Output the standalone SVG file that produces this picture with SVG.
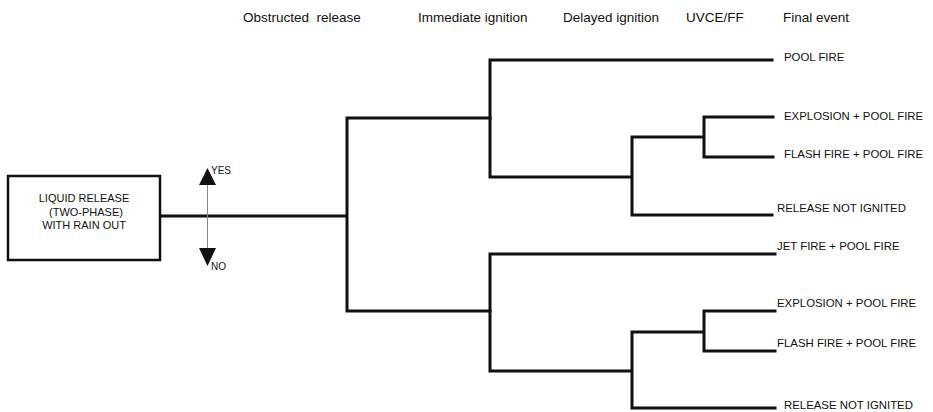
<svg xmlns="http://www.w3.org/2000/svg" width="933" height="412" viewBox="0 0 933 412">
<style>
text{font-family:"Liberation Sans",Arial,sans-serif;fill:#111}
.hdr{font-size:13.5px;white-space:pre}
.lbl{font-size:11.4px}
.box-t{font-size:11px}
.yn{font-size:10px}
.tree{fill:none;stroke:#111;stroke-width:3;stroke-linecap:square;stroke-linejoin:miter}
.box{fill:#fff;stroke:#111;stroke-width:2.5}
.arr{fill:#111}
</style>
<rect width="933" height="412" fill="#fff"/>
<g id="headers">
<text class="hdr" x="243" y="22" xml:space="preserve">Obstructed  release</text>
<text class="hdr" x="418" y="22">Immediate ignition</text>
<text class="hdr" x="563" y="22">Delayed ignition</text>
<text class="hdr" x="686" y="22">UVCE/FF</text>
<text class="hdr" x="783" y="22">Final event</text>
</g>
<g id="connectors">
<path class="tree" d="M160 216 H347 M347 118 V311 M347 118 H490 M347 311 H490"/>
<path class="tree" d="M490 60 V177 M490 60 H772 M490 177 H632 M632 137 V215 M632 137 H704 M632 215 H772 M704 117 V157 M704 117 H773 M704 157 H773"/>
<path class="tree" d="M490 254 V371 M490 254 H775 M490 371 H632 M632 332 V408 M632 332 H704 M632 408 H775 M704 311 V351 M704 311 H775 M704 351 H775"/>
</g>
<g id="yesno">
<line x1="207.5" y1="184" x2="207.5" y2="249" stroke="#888" stroke-width="1"/>
<path class="arr" d="M199 185 L207.5 168 L216 185 Z"/>
<path class="arr" d="M199 248 L207.5 266 L216 248 Z"/>
<text class="yn" x="211" y="174">YES</text>
<text class="yn" x="211" y="270">NO</text>
</g>
<g id="start">
<rect class="box" x="8" y="176" width="152" height="84"/>
<text class="box-t" x="84" y="202" text-anchor="middle">LIQUID RELEASE</text>
<text class="box-t" x="86" y="216" text-anchor="middle">(TWO-PHASE)</text>
<text class="box-t" x="84" y="229" text-anchor="middle">WITH RAIN OUT</text>
</g>
<g id="leaf1"><text class="lbl" x="784" y="61">POOL FIRE</text></g>
<g id="leaf2"><text class="lbl" x="784" y="120">EXPLOSION + POOL FIRE</text></g>
<g id="leaf3"><text class="lbl" x="784" y="158">FLASH FIRE + POOL FIRE</text></g>
<g id="leaf4"><text class="lbl" x="777" y="212">RELEASE NOT IGNITED</text></g>
<g id="leaf5"><text class="lbl" x="777" y="250">JET FIRE + POOL FIRE</text></g>
<g id="leaf6"><text class="lbl" x="777" y="307">EXPLOSION + POOL FIRE</text></g>
<g id="leaf7"><text class="lbl" x="777" y="347">FLASH FIRE + POOL FIRE</text></g>
<g id="leaf8"><text class="lbl" x="784" y="409">RELEASE NOT IGNITED</text></g>
</svg>
